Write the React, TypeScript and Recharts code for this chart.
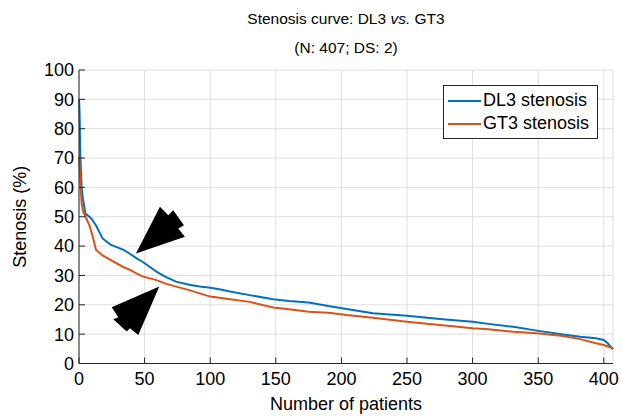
import React from "react";
import {
  LineChart,
  CartesianGrid,
  XAxis,
  YAxis,
  Legend,
  Line,
  ReferenceDot,
} from "recharts";

// patient index (sorted by stenosis) and the two curves
const patients = [0, 0.4, 1, 2, 3, 5, 8, 10, 13, 18, 24, 34, 39, 44, 49, 59, 66, 74, 84, 92, 100, 107, 115, 130, 148, 160, 175, 190, 204, 224, 250, 275, 300, 312, 331, 349, 369, 382, 394, 400, 403, 407];
const dl3 = [90, 86, 71, 60, 56, 51, 50, 49, 47, 42.6, 40.5, 38.7, 37.3, 35.8, 34.5, 31.3, 29.5, 27.9, 26.8, 26.2, 25.8, 25.3, 24.5, 23.3, 21.9, 21.3, 20.8, 19.6, 18.6, 17.1, 16.3, 15.2, 14.2, 13.5, 12.5, 11.2, 9.9, 9.1, 8.6, 8.0, 6.9, 4.8];
const gt3 = [70.5, 68, 62, 54.6, 52, 50, 47, 44, 38.7, 36.8, 35.3, 32.8, 31.9, 30.6, 29.6, 28.4, 27.2, 26.2, 25, 23.9, 22.8, 22.4, 21.9, 21.0, 19.1, 18.5, 17.6, 17.3, 16.5, 15.6, 14.2, 13.1, 12.0, 11.7, 10.8, 10.3, 9.4, 8.3, 6.9, 6.3, 5.8, 5.2];

const xTicks = [0, 50, 100, 150, 200, 250, 300, 350, 400];
const yTicks = [0, 10, 20, 30, 40, 50, 60, 70, 80, 90, 100];

// where the two annotation arrows point
const arrowUpper = { x: 43.4, y: 37.5 };
const arrowLower = { x: 61.2, y: 26.2 };

const BLUE = "#0072BD";
const RED = "#D95319";
const AXIS = "#262626";
const FONT = "'Liberation Sans', Arial, sans-serif";

const data = patients.map((p, i) => ({ patient: p, dl3: dl3[i], gt3: gt3[i] }));

const UpperArrow = (props: any) => {
  const { cx, cy } = props;
  const pts = [
    [0, 0],
    [24, -46.6],
    [32.3, -38.3],
    [37.3, -43.3],
    [48, -28.3],
    [42.3, -25],
    [49, -16.6],
  ];
  return <polygon points={pts.map(([dx, dy]) => `${cx + dx},${cy + dy}`).join(" ")} fill="#000" />;
};

const LowerArrow = (props: any) => {
  const { cx, cy } = props;
  const pts = [
    [0, 0],
    [-47.6, 20.6],
    [-41, 30.6],
    [-46, 32.6],
    [-32.6, 45],
    [-29.3, 41.6],
    [-21, 48.3],
  ];
  return <polygon points={pts.map(([dx, dy]) => `${cx + dx},${cy + dy}`).join(" ")} fill="#000" />;
};

const LegendBox = () => (
  <div
    style={{
      border: `1px solid ${AXIS}`,
      background: "#fff",
      padding: "3px 8px 3px 4px",
      fontFamily: FONT,
      fontSize: 18,
      color: "#000",
      lineHeight: "23px",
    }}
  >
    {[
      { name: "DL3 stenosis", color: BLUE },
      { name: "GT3 stenosis", color: RED },
    ].map((item) => (
      <div key={item.name} style={{ display: "flex", alignItems: "center" }}>
        <span style={{ display: "inline-block", width: 33, height: 2, background: item.color, marginRight: 2 }} />
        <span>{item.name}</span>
      </div>
    ))}
  </div>
);

const YLabel = (props: any) => {
  const { viewBox } = props;
  const cx = 20;
  const cy = viewBox.y + viewBox.height / 2;
  return (
    <text
      x={cx}
      y={cy}
      transform={`rotate(-90 ${cx} ${cy})`}
      textAnchor="middle"
      dominantBaseline="central"
      fontFamily={FONT}
      fontSize={18}
      fill="#000"
    >
      Stenosis (%)
    </text>
  );
};

const App: React.FC = () => {
  return (
    <div style={{ position: "absolute", left: 0, top: 0, width: 622, height: 416, background: "#fff" }}>
      <div
        style={{
          position: "absolute",
          left: 79,
          width: 534,
          top: 4,
          textAlign: "center",
          fontFamily: FONT,
          fontSize: 15.5,
          lineHeight: "29px",
          color: "#000",
        }}
      >
        <div>
          Stenosis curve: DL3 <i>vs.</i> GT3
        </div>
        <div>(N: 407; DS: 2)</div>
      </div>
      <LineChart
        width={622}
        height={416}
        data={data}
        margin={{ top: 70, right: 9, bottom: 0, left: 0 }}
      >
        <CartesianGrid stroke="#dedede" />
        <XAxis
          dataKey="patient"
          type="number"
          domain={[0, 407]}
          ticks={xTicks}
          height={52.5}
          axisLine={{ stroke: AXIS }}
          tickLine={{ stroke: AXIS }}
          tickSize={-6}
          tickMargin={15}
          tick={{ fill: "#000", fontSize: 18, fontFamily: FONT }}
          label={{
            value: "Number of patients",
            position: "insideBottom",
            offset: 6,
            fill: "#000",
            fontSize: 18,
            fontFamily: FONT,
          }}
        />
        <XAxis
          xAxisId="top"
          orientation="top"
          type="number"
          domain={[0, 407]}
          ticks={xTicks}
          height={0}
          axisLine={{ stroke: AXIS }}
          tickLine={{ stroke: AXIS }}
          tickSize={-6}
          tickFormatter={() => ""}
        />
        <YAxis
          type="number"
          domain={[0, 100]}
          ticks={yTicks}
          width={79}
          axisLine={{ stroke: AXIS }}
          tickLine={{ stroke: AXIS }}
          tickSize={-6}
          tickMargin={11}
          tick={{ fill: "#000", fontSize: 18, fontFamily: FONT }}
          label={<YLabel />}
        />
        <YAxis
          yAxisId="right"
          orientation="right"
          type="number"
          domain={[0, 100]}
          ticks={yTicks}
          width={0}
          axisLine={{ stroke: AXIS }}
          tickLine={{ stroke: AXIS }}
          tickSize={-6}
          tickFormatter={() => ""}
        />
        <Legend
          layout="vertical"
          align="center"
          verticalAlign="middle"
          content={<LegendBox />}
          wrapperStyle={{ left: 443, top: 85, width: "auto" }}
        />
        <Line
          type="linear"
          dataKey="dl3"
          stroke={BLUE}
          strokeWidth={2}
          dot={false}
          name="DL3 stenosis"
          isAnimationActive={false}
        />
        <Line
          type="linear"
          dataKey="gt3"
          stroke={RED}
          strokeWidth={2}
          dot={false}
          name="GT3 stenosis"
          isAnimationActive={false}
        />
        <ReferenceDot x={arrowUpper.x} y={arrowUpper.y} r={0} shape={<UpperArrow />} />
        <ReferenceDot x={arrowLower.x} y={arrowLower.y} r={0} shape={<LowerArrow />} />
      </LineChart>
    </div>
  );
};

export default App;
